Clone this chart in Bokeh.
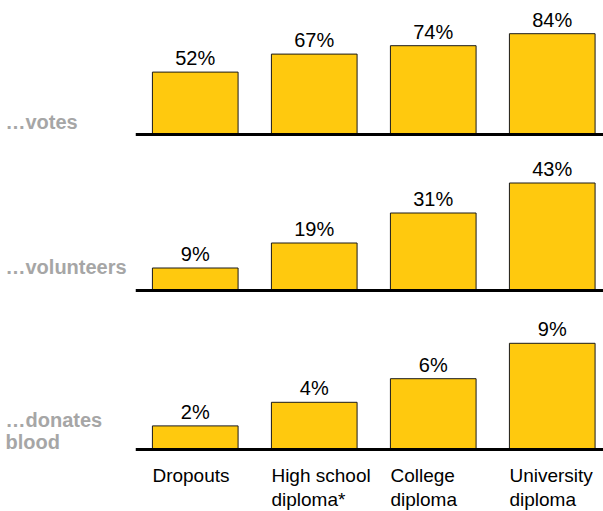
from bokeh.plotting import figure
from bokeh.layouts import column
from bokeh.models import ColumnDataSource, Range1d
from bokeh.core.properties import value
from bokeh.embed import file_html
from bokeh.resources import INLINE

categories = ["Dropouts", "High school\ndiploma*", "College\ndiploma", "University\ndiploma"]
votes = [52, 67, 74, 84]
volunteers = [9, 19, 31, 43]
donates_blood = [2, 4, 6, 9]
panel_labels = ["\u2026votes", "\u2026volunteers", "\u2026donates\nblood"]
series = [votes, volunteers, donates_blood]

BAR = "#FFC90E"
FONT = value("Liberation Sans")
W = 603
STEP = 119.0
FIRST = 194.75
# (figure height, px above baseline, px per unit)
panels = [(150, 134, 1.2), (157, 140, 2.5), (204, 142, 11.8)]
label_offsets = [-2, -13, 3]

x_pos = list(range(len(categories)))
xs = -FIRST / STEP
xe = (W - FIRST) / STEP

figs = []
for i, (vals, lab, (h, above, ppu)) in enumerate(zip(series, panel_labels, panels)):
    below = h - above
    p = figure(width=W, height=h, x_range=Range1d(xs, xe),
               y_range=Range1d(-below / ppu, above / ppu),
               x_axis_type=None, y_axis_type=None, toolbar_location=None,
               output_backend="svg", min_border=0, outline_line_color=None)
    p.grid.visible = False
    src = ColumnDataSource(dict(x=x_pos, v=vals, t=[f"{v}%" for v in vals]))
    p.vbar(x="x", top="v", bottom=0, width=0.72, source=src,
           fill_color=BAR, line_color="#1a1a1a", line_width=1)
    p.segment(x0=-0.5, y0=0, x1=xe, y1=0, line_color="black", line_width=3)
    p.text(x="x", y="v", text="t", source=src, text_align="center",
           text_baseline="alphabetic", y_offset=-14, text_font=FONT,
           text_font_size="20px", text_color="black")
    lsrc = ColumnDataSource(dict(x=[xs], y=[0], t=[lab]))
    p.text(x="x", y="y", text="t", source=lsrc, text_align="left",
           text_baseline="bottom", x_offset=5, y_offset=label_offsets[i],
           text_font=FONT, text_font_size="20px", text_font_style="bold",
           text_color="#A6A6A6", text_line_height=1.0)
    if i == len(series) - 1:
        csrc = ColumnDataSource(dict(x=[x - 0.36 for x in x_pos], y=[0] * len(x_pos), t=categories))
        p.text(x="x", y="y", text="t", source=csrc, text_align="left",
               text_baseline="top", y_offset=15, text_font=FONT,
               text_font_size="19px", text_color="black", text_line_height=1.15)
    figs.append(p)

layout = column(*figs, spacing=0)
open("out.html", "w").write(file_html(layout, INLINE))
